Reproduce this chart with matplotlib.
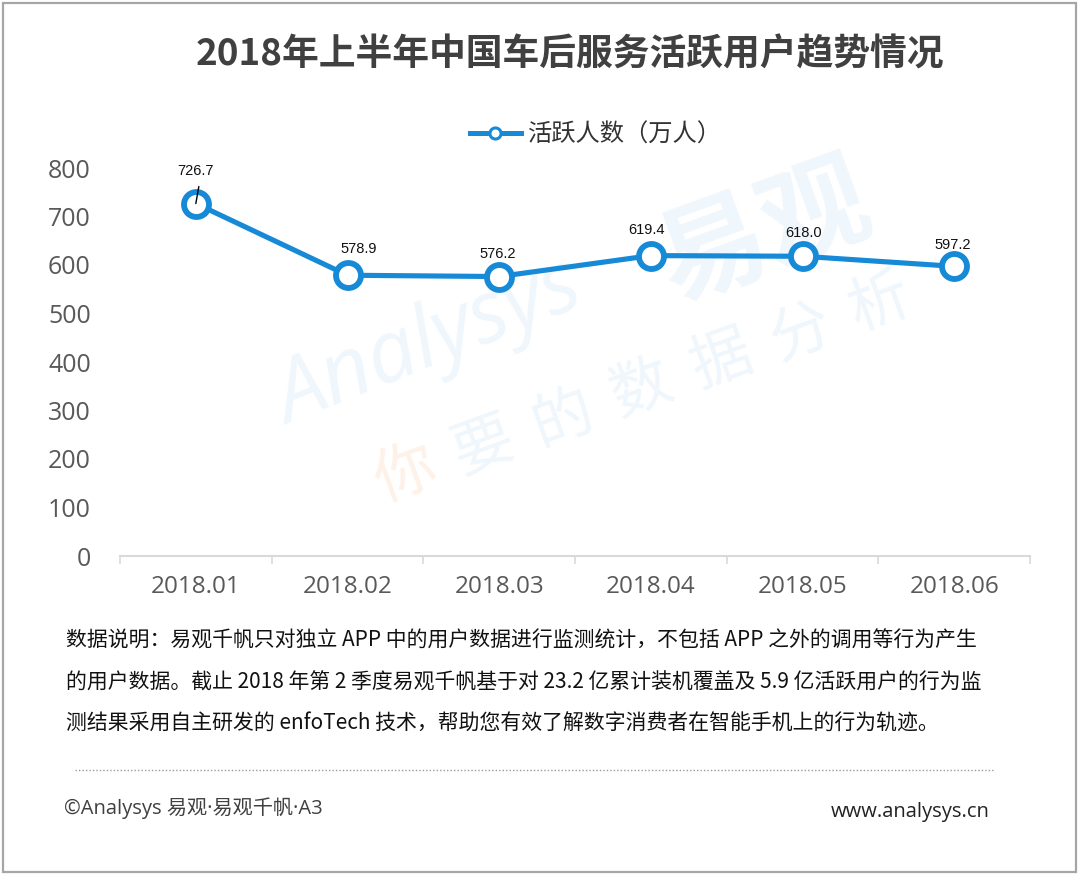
import matplotlib
matplotlib.use("Agg")
import matplotlib.pyplot as plt
from matplotlib.lines import Line2D
from matplotlib.patches import Rectangle

# ---- data ----
categories = ["2018.01", "2018.02", "2018.03", "2018.04", "2018.05", "2018.06"]
active_users = [726.7, 578.9, 576.2, 619.4, 618.0, 597.2]
series_name = "活跃人数（万人）"
title = "2018年上半年中国车后服务活跃用户趋势情况"
y_ticks = [0, 100, 200, 300, 400, 500, 600, 700, 800]
note_lines = [
    "数据说明：易观千帆只对独立 APP 中的用户数据进行监测统计，不包括 APP 之外的调用等行为产生",
    "的用户数据。截止 2018 年第 2 季度易观千帆基于对 23.2 亿累计装机覆盖及 5.9 亿活跃用户的行为监",
    "测结果采用自主研发的 enfoTech 技术，帮助您有效了解数字消费者在智能手机上的行为轨迹。",
]
footer_left = "©Analysys 易观·易观千帆·A3"
footer_right = "www.analysys.cn"

CJK = ["Noto Sans CJK SC", "DejaVu Sans"]
NUM = ["Open Sans", "Noto Sans CJK SC", "DejaVu Sans"]
plt.rcParams["font.family"] = CJK

BLUE = "#168AD6"
GRAY_TXT = "#595959"

fig = plt.figure(figsize=(10.8, 8.76), dpi=100)
W, H = 1080, 876

def fx(px):
    return px / W

def fy(py):
    return 1 - py / H

# outer frame
fig.add_artist(Rectangle((fx(3), fy(872)), fx(1073), (869) / H, transform=fig.transFigure,
                         fill=False, edgecolor="#A6A6A6", linewidth=1.6))

# background axes for the faint watermark
bg = fig.add_axes([0, 0, 1, 1], zorder=0)
bg.set_xlim(0, W)
bg.set_ylim(H, 0)
bg.axis("off")
wm_kw = dict(ha="center", va="center")
bg.text(430, 345, "Analysys", fontsize=62, color="#EFF6FC", rotation=22,
        style="italic", family=NUM, **wm_kw)
bg.text(765, 235, "易观", fontsize=78, color="#EFF6FC", rotation=20,
        fontweight="bold", **wm_kw)
wm_chars = "你要的数据分析"
for k, ch in enumerate(wm_chars):
    bg.text(405 + k * 79, 475 - k * 28.5, ch, fontsize=44,
            color=("#FEF1E8" if k == 0 else "#EFF6FC"), rotation=20, **wm_kw)

ax = fig.add_axes([fx(120), fy(556), fx(1030) - fx(120), fy(168) - fy(556)], zorder=2)
ax.set_xlim(0, len(categories))
ax.set_ylim(0, 800)
ax.patch.set_alpha(0)

x = [i + 0.5 for i in range(len(categories))]
ax.plot(x, active_users, color=BLUE, linewidth=3.7, marker="o", markersize=18,
        markerfacecolor="white", markeredgecolor=BLUE, markeredgewidth=4.2,
        zorder=3, solid_joinstyle="round")

# data labels
dx_px = [0, 11, -1, -4, 1, -1]
dy_px = [33, 26, 23, 26, 23, 21]
for i, (xi, v) in enumerate(zip(x, active_users)):
    ax.annotate(f"{v:.1f}", xy=(xi, v), xytext=(dx_px[i] * 0.72, dy_px[i] * 0.72),
                textcoords="offset points", ha="center", va="center",
                fontsize=10.5, color="#111111",
                family=["Liberation Sans Narrow", "Liberation Sans", "DejaVu Sans"],
                zorder=4)
# leader line for the first label
ax.annotate("", xy=(x[0], active_users[0]), xytext=(3 * 0.72, 17 * 0.72),
            textcoords="offset points",
            arrowprops=dict(arrowstyle="-", color="black", lw=1.0,
                            shrinkA=0, shrinkB=0), zorder=5)

# axes styling
for s in ["top", "right", "left"]:
    ax.spines[s].set_visible(False)
ax.spines["bottom"].set_color("#D9D9D9")
ax.spines["bottom"].set_linewidth(1.5)
ax.set_yticks(y_ticks)
ax.tick_params(axis="y", length=0, pad=21, labelsize=18, labelcolor=GRAY_TXT)
for lab in ax.get_yticklabels():
    lab.set_family(NUM)
ax.set_xticks(range(len(categories) + 1))
ax.set_xticklabels([])
ax.tick_params(axis="x", which="major", length=6, width=1.2, color="#D9D9D9", direction="out")
ax.set_xticks(x, minor=True)
ax.set_xticklabels(categories, minor=True)
ax.tick_params(axis="x", which="minor", length=0, pad=14, labelsize=17.5, labelcolor=GRAY_TXT)
for lab in ax.get_xticklabels(minor=True):
    lab.set_family(NUM)

# title
fig.text(fx(570), fy(55), title, ha="center", va="center", fontsize=26.5,
         fontweight="bold", color="#404040")

# legend
proxy = Line2D([0], [0], color=BLUE, linewidth=3.6, marker="o", markersize=8,
               markerfacecolor="white", markeredgecolor=BLUE, markeredgewidth=2.2)
fig.legend(handles=[proxy], labels=[series_name], loc="center",
           bbox_to_anchor=(fx(596), fy(135)), frameon=False, fontsize=17.5,
           handlelength=2.1, handletextpad=0.3, labelcolor="#333333")

# notes
for k, line in enumerate(note_lines):
    fig.text(fx(66), fy(641 + k * 41.5), line, ha="left", va="center",
             fontsize=15, color="#111111")

# dotted separator
fig.add_artist(Line2D([fx(75), fx(995)], [fy(770), fy(770)], transform=fig.transFigure,
                      color="#9A9A9A", linewidth=1.0, linestyle=(0, (1, 1.5))))

# footer
fig.text(fx(64), fy(808), footer_left, ha="left", va="center", fontsize=14.5,
         color="#404040", family=NUM)
fig.text(fx(990), fy(812), footer_right, ha="right", va="center", fontsize=14.5,
         color="#222222", family=NUM)

fig.savefig("out.png", dpi=100, facecolor="white")
